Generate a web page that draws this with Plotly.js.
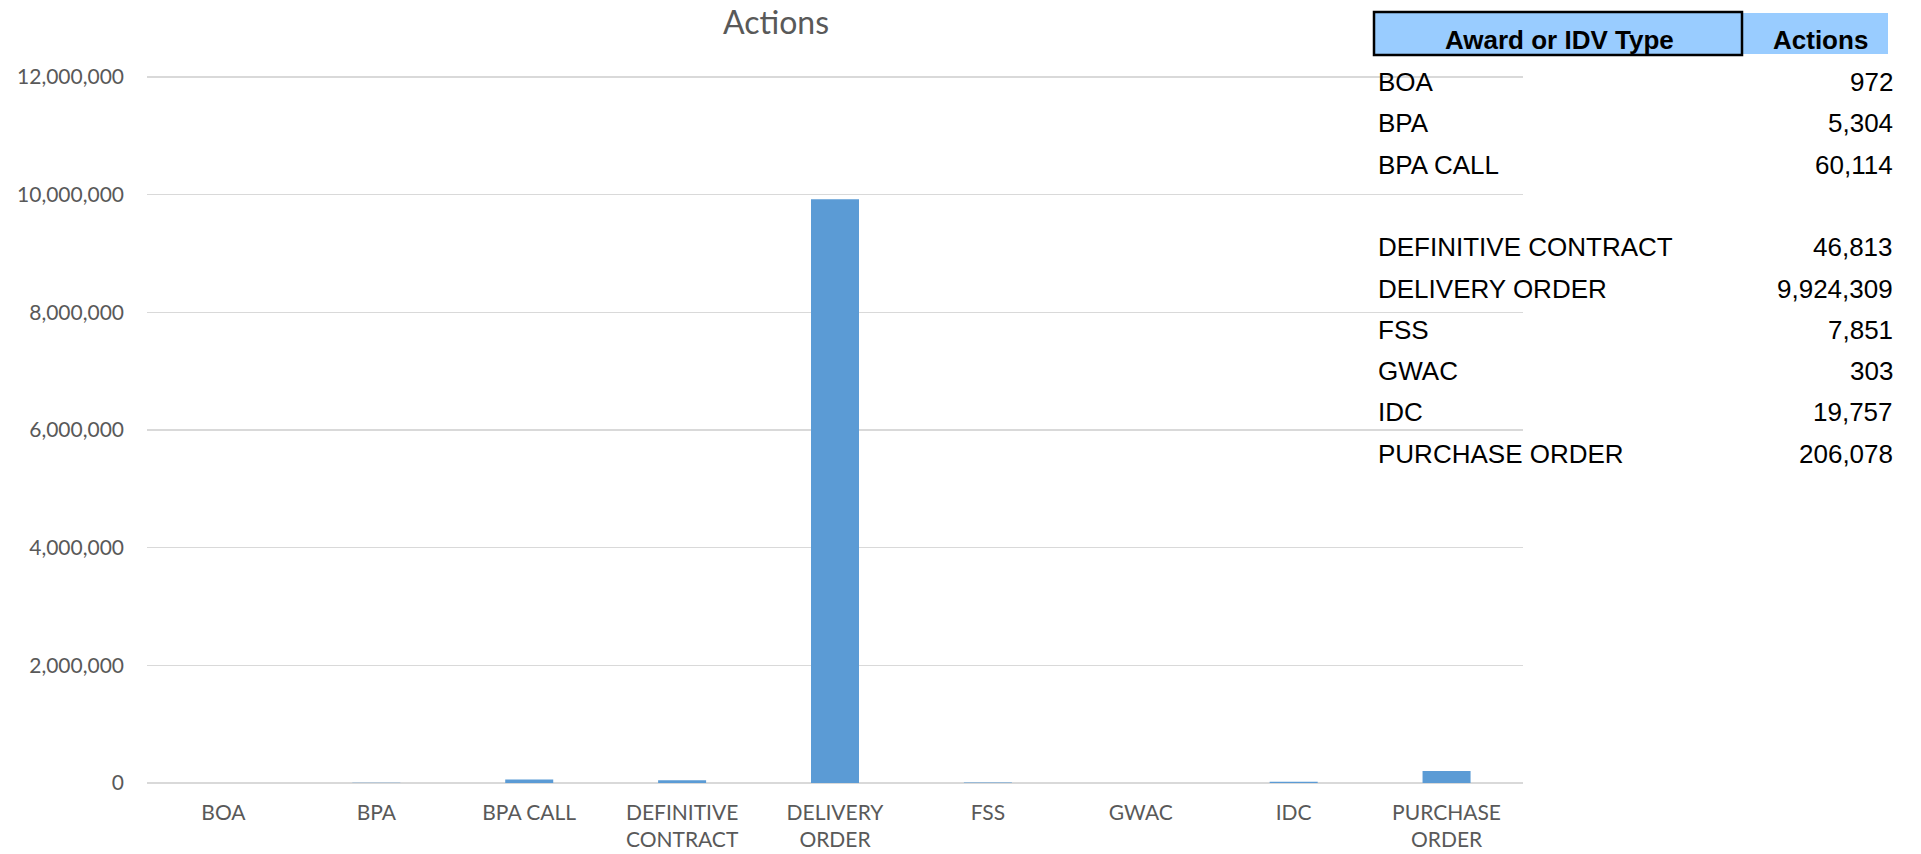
<!DOCTYPE html>
<html>
<head>
<meta charset="utf-8">
<script src="https://cdn.plot.ly/plotly-3.0.1.min.js"></script>
<style>
  html, body { margin: 0; padding: 0; background: #ffffff; }
  #chart { width: 1921px; height: 854px; }
</style>
</head>
<body>
<div id="chart"></div>
<script>
// ---- Data ----
const categories = ["BOA", "BPA", "BPA CALL", "DEFINITIVE CONTRACT", "DELIVERY ORDER", "FSS", "GWAC", "IDC", "PURCHASE ORDER"];
const tickLabels = ["BOA", "BPA", "BPA CALL", "DEFINITIVE<br>CONTRACT", "DELIVERY<br>ORDER", "FSS", "GWAC", "IDC", "PURCHASE<br>ORDER"];
const actions = [972, 5304, 60114, 46813, 9924309, 7851, 303, 19757, 206078];
const yTickValues = [0, 2000000, 4000000, 6000000, 8000000, 10000000, 12000000];
const yMax = 12000000;
const chartTitle = "Actions";
const tableHeaders = ["Award or IDV Type", "Actions"];
// table has an empty row after this index
const tableBlankAfter = 2;

// ---- Layout geometry (pixels) ----
const W = 1921, H = 854;
const plotL = 147, plotR = 1523, plotB = 783;
const topPad = 1.01;                   // small headroom so the top gridline is drawn
const gridTop = 77;                    // pixel of the yMax gridline
const plotT = plotB - (plotB - gridTop) * topPad;
const px = x => (x - plotL) / (plotR - plotL);
const py = y => (plotB - y) / (plotB - plotT);

const grey = "#595959";
const tableFont = "Liberation Sans, Arial, sans-serif";
const tSize = 26;

const annotations = [];
const shapes = [];

// header cells
shapes.push({type: "rect", xref: "paper", yref: "paper",
  x0: px(1742), x1: px(1888), y0: py(54), y1: py(13),
  fillcolor: "#99CCFF", line: {width: 0}, layer: "above"});
shapes.push({type: "rect", xref: "paper", yref: "paper",
  x0: px(1374), x1: px(1742), y0: py(55), y1: py(12),
  fillcolor: "#99CCFF", line: {color: "#000000", width: 2.5}, layer: "above"});

annotations.push({xref: "paper", yref: "paper", x: px(1559), y: py(40),
  xanchor: "center", yanchor: "middle", showarrow: false,
  text: "<b>" + tableHeaders[0] + "</b>",
  font: {family: tableFont, size: tSize, color: "#000000"}});
annotations.push({xref: "paper", yref: "paper", x: px(1820), y: py(40),
  xanchor: "center", yanchor: "middle", showarrow: false,
  text: "<b>" + tableHeaders[1] + "</b>",
  font: {family: tableFont, size: tSize, color: "#000000"}});

// body rows
const rowStart = 82, rowStep = 41.3;
let row = 0;
categories.forEach((c, i) => {
  const yc = rowStart + row * rowStep;
  annotations.push({xref: "paper", yref: "paper", x: px(1376), y: py(yc),
    xanchor: "left", yanchor: "middle", showarrow: false, text: c,
    font: {family: tableFont, size: tSize, color: "#000000"}});
  annotations.push({xref: "paper", yref: "paper", x: px(1895), y: py(yc),
    xanchor: "right", yanchor: "middle", showarrow: false,
    text: actions[i].toLocaleString("en-US"),
    font: {family: tableFont, size: tSize, color: "#000000"}});
  row++;
  if (i === tableBlankAfter) row++;
});

const trace = {
  type: "bar",
  x: categories,
  y: actions,
  marker: {color: "#5B9BD5"},
  hoverinfo: "x+y"
};

const layout = {
  width: W, height: H, autosize: false,
  paper_bgcolor: "#ffffff", plot_bgcolor: "#ffffff",
  margin: {l: plotL, r: W - plotR, t: plotT, b: H - plotB, pad: 0},
  bargap: 0.686,
  showlegend: false,
  font: {family: "Lato, Calibri, sans-serif", color: grey, size: 21},
  title: {text: chartTitle, x: 776 / W, xref: "container", xanchor: "center",
    y: 1 - 23 / H, yref: "container", yanchor: "middle",
    font: {family: "Lato, Calibri, sans-serif", size: 32, color: grey}},
  xaxis: {
    type: "category",
    tickmode: "array", tickvals: categories, ticktext: tickLabels,
    showgrid: false, showline: false, zeroline: false,
    ticks: "", ticklabelstandoff: 15,
    tickfont: {family: "Lato, Calibri, sans-serif", size: 21, color: grey},
    fixedrange: true
  },
  yaxis: {
    range: [0, yMax * topPad],
    tickmode: "array", tickvals: yTickValues,
    tickformat: ",d",
    showgrid: true, gridcolor: "#d9d9d9", gridwidth: 1.5,
    zeroline: true, zerolinecolor: "#d9d9d9", zerolinewidth: 1.5,
    showline: false, ticks: "", ticklabelstandoff: 22,
    tickfont: {family: "Lato, Calibri, sans-serif", size: 21, color: grey},
    fixedrange: true
  },
  shapes: shapes,
  annotations: annotations
};

Plotly.newPlot("chart", [trace], layout, {displayModeBar: false, staticPlot: true});
</script>
</body>
</html>
